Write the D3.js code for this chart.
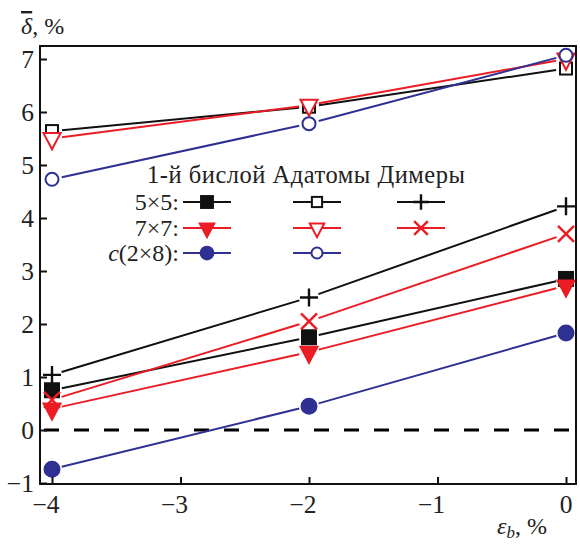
<!DOCTYPE html>
<html>
<head>
<meta charset="utf-8">
<script src="https://cdn.jsdelivr.net/npm/d3@7"></script>
<style>
  body { margin: 0; background: #fff; }
  text { font-family: "Liberation Serif", "DejaVu Serif", serif; fill: #222; }
</style>
</head>
<body>
<svg id="chart" width="580" height="544"></svg>
<script>
// data
const strain = [-4, -2, 0];
const layer5x5 = [0.75, 1.75, 2.85];
const adatom5x5 = [5.64, 6.1, 6.82];
const dimer5x5 = [1.04, 2.5, 4.22];
const layer7x7 = [0.4, 1.47, 2.72];
const adatom7x7 = [5.5, 6.13, 7.0];
const dimer7x7 = [0.57, 2.05, 3.7];
const layerC28 = [-0.74, 0.45, 1.83];
const adatomC28 = [4.73, 5.78, 7.07];

const xTicks = [-4, -3, -2, -1, 0];
const yTicks = [-1, 0, 1, 2, 3, 4, 5, 6, 7];
const colHeads = ['1-й бислой', 'Адатомы', 'Димеры'];
const rowLabels = ['5×5:', '7×7:', 'c(2×8):'];

const BLACK = '#111', RED = '#ec1c24', BLUE = '#2e3192';

const series = [
  { vals: layer5x5, color: BLACK, shape: 'square', fill: true, row: 0, col: 0 },
  { vals: adatom5x5, color: BLACK, shape: 'square', fill: false, row: 0, col: 1 },
  { vals: dimer5x5, color: BLACK, shape: 'plus', row: 0, col: 2 },
  { vals: layer7x7, color: RED, shape: 'tri', fill: true, row: 1, col: 0 },
  { vals: adatom7x7, color: RED, shape: 'tri', fill: false, row: 1, col: 1 },
  { vals: dimer7x7, color: RED, shape: 'cross', row: 1, col: 2 },
  { vals: layerC28, color: BLUE, shape: 'circle', fill: true, row: 2, col: 0 },
  { vals: adatomC28, color: BLUE, shape: 'circle', fill: false, row: 2, col: 1 }
];

const svg = d3.select('#chart');
const L = 40, R = 576, T = 46, B = 484;
const x = d3.scaleLinear().domain([-4, 0]).range([52, 566]);
const y = d3.scaleLinear().domain([0, 7]).range([430, 59]);

// dashed zero line
svg.append('line')
  .attr('x1', L + 4).attr('x2', R - 4)
  .attr('y1', y(0)).attr('y2', y(0))
  .attr('stroke', '#000').attr('stroke-width', 3)
  .attr('stroke-dasharray', '15,15');

function marker(g, shape, cx, cy, color, fill, s) {
  s = s || 1;
  const f = fill ? color : '#fff';
  if (shape === 'square') {
    const a = (fill ? 14 : 12) * s;
    g.append('rect').attr('x', cx - a / 2).attr('y', cy - a / 2).attr('width', a).attr('height', a)
      .attr('fill', f).attr('stroke', color).attr('stroke-width', 2);
  } else if (shape === 'circle') {
    g.append('circle').attr('cx', cx).attr('cy', cy).attr('r', (fill ? 7.5 : 6.5) * s)
      .attr('fill', f).attr('stroke', color).attr('stroke-width', 2);
  } else if (shape === 'tri') {
    const w = 8.5 * s, h = 9 * s;
    g.append('path')
      .attr('d', `M${cx - w},${cy - h * 0.6}L${cx + w},${cy - h * 0.6}L${cx},${cy + h * 1.2}Z`)
      .attr('fill', f).attr('stroke', color).attr('stroke-width', 2).attr('stroke-linejoin', 'miter');
  } else if (shape === 'plus') {
    const a = 9 * s;
    g.append('path').attr('d', `M${cx - a},${cy}H${cx + a}M${cx},${cy - a}V${cy + a}`)
      .attr('stroke', color).attr('stroke-width', 2.4).attr('fill', 'none');
  } else if (shape === 'cross') {
    const a = 8 * s;
    g.append('path').attr('d', `M${cx - a},${cy - a}L${cx + a},${cy + a}M${cx - a},${cy + a}L${cx + a},${cy - a}`)
      .attr('stroke', color).attr('stroke-width', 2.4).attr('fill', 'none');
  }
}

// lines with a gap near each marker, then markers
const gap = 10;
series.forEach(sr => {
  const g = svg.append('g');
  for (let i = 0; i < strain.length - 1; i++) {
    const x1 = x(strain[i]), y1 = y(sr.vals[i]);
    const x2 = x(strain[i + 1]), y2 = y(sr.vals[i + 1]);
    const len = Math.hypot(x2 - x1, y2 - y1);
    const ux = (x2 - x1) / len, uy = (y2 - y1) / len;
    g.append('line')
      .attr('x1', x1 + ux * gap).attr('y1', y1 + uy * gap)
      .attr('x2', x2 - ux * gap).attr('y2', y2 - uy * gap)
      .attr('stroke', sr.color).attr('stroke-width', 2);
  }
});
series.forEach(sr => {
  const g = svg.append('g');
  strain.forEach((s, i) => marker(g, sr.shape, x(s), y(sr.vals[i]), sr.color, sr.fill));
});

// legend
const colX = [207, 317, 421];
const rowY = [202, 228, 253];
svg.append('text').attr('x', 147).attr('y', 183).attr('font-size', 24.5)
  .attr('textLength', 318).attr('lengthAdjust', 'spacing')
  .text(colHeads.join(' '));
rowLabels.forEach((t, i) => {
  const tx = svg.append('text').attr('x', 179).attr('y', rowY[i] + 8).attr('font-size', 24)
    .attr('text-anchor', 'end');
  if (i === 2) {
    tx.append('tspan').attr('font-style', 'italic').text('c');
    tx.append('tspan').text(t.slice(1));
  } else tx.text(t);
});
series.forEach(sr => {
  const g = svg.append('g');
  const cx = colX[sr.col], cy = rowY[sr.row];
  g.append('line').attr('x1', cx - 24).attr('x2', cx + 24).attr('y1', cy).attr('y2', cy)
    .attr('stroke', sr.color).attr('stroke-width', 2);
  marker(g, sr.shape, cx, cy, sr.color, sr.fill, 0.85);
});

// frame
svg.append('rect').attr('x', L).attr('y', T).attr('width', R - L).attr('height', B - T)
  .attr('fill', 'none').attr('stroke', '#111').attr('stroke-width', 2);

// axes (inward ticks)
const yAxis = svg.append('g').attr('transform', `translate(${L},0)`)
  .call(d3.axisRight(y).tickValues(yTicks).tickSize(7).tickFormat(''));
yAxis.select('.domain').remove();
yAxis.selectAll('line').attr('stroke', '#111').attr('stroke-width', 2);
yTicks.forEach(v => {
  svg.append('text').attr('x', 34).attr('y', y(v) + 8.5).attr('text-anchor', 'end')
    .attr('font-size', 25.5).text(String(v).replace('-', '−'));
});

const xAxis = svg.append('g').attr('transform', `translate(0,${B})`)
  .call(d3.axisTop(x).tickValues(xTicks).tickSize(7).tickFormat(''));
xAxis.select('.domain').remove();
xAxis.selectAll('line').attr('stroke', '#111').attr('stroke-width', 2);
xTicks.forEach(v => {
  svg.append('text').attr('x', x(v) - (v < 0 ? 6 : 0)).attr('y', 513).attr('text-anchor', 'middle')
    .attr('font-size', 25.5).text(String(v).replace('-', '−'));
});

// axis titles
const yl = svg.append('text').attr('x', 21).attr('y', 34).attr('font-size', 24);
yl.append('tspan').attr('font-style', 'italic').attr('text-decoration', 'overline').text('δ');
yl.append('tspan').text(', %');

const xl = svg.append('text').attr('x', 497).attr('y', 534).attr('font-size', 24);
xl.append('tspan').attr('font-style', 'italic').text('ε');
xl.append('tspan').attr('font-style', 'italic').attr('font-size', 17).attr('dy', 4).text('b');
xl.append('tspan').attr('dy', -4).text(', %');
</script>
</body>
</html>
